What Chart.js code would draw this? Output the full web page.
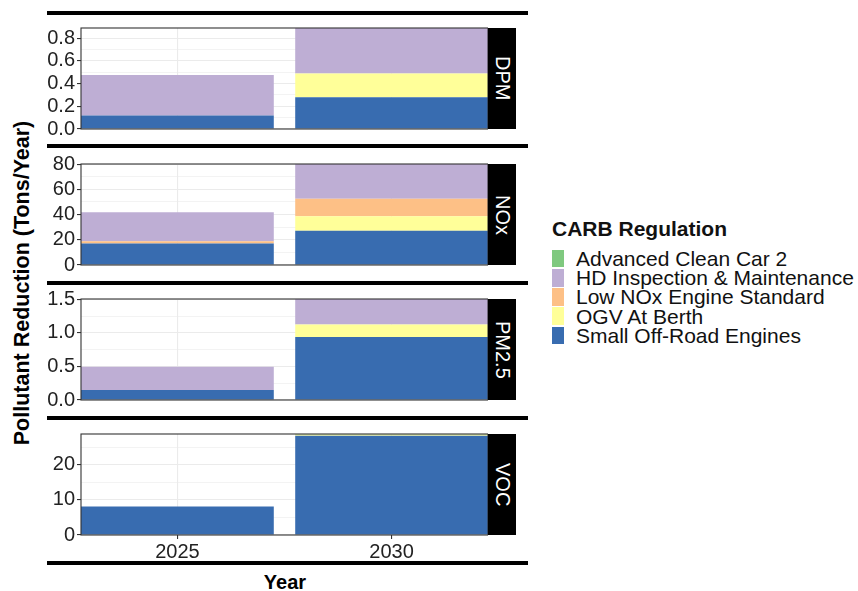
<!DOCTYPE html>
<html>
<head>
<meta charset="utf-8">
<script src="https://cdn.jsdelivr.net/npm/chart.js@4.4.0/dist/chart.umd.min.js"></script>
<style>
  body { margin: 0; background: #fff; font-family: "Liberation Sans", Arial, sans-serif; }
  #wrap { position: relative; width: 858px; height: 591px; overflow: hidden; }
  canvas { position: absolute; left: 40px; }
  .rule { position: absolute; left: 47px; width: 481px; height: 4px; background: #000; }
  .strip { position: absolute; left: 488px; width: 28px; background: #000; color: #fff; font-size: 20px;
           writing-mode: vertical-rl; display: flex; align-items: center; justify-content: center; }
  .ytitle { position: absolute; left: 22px; top: 283px; font-weight: bold; font-size: 21.5px; white-space: nowrap;
            transform: translate(-50%, -50%) rotate(-90deg); }
  .xtitle { position: absolute; left: 285px; top: 582px; font-weight: bold; font-size: 20px;
            transform: translate(-50%, -50%); }
  #legend { position: absolute; left: 552px; top: 219px; font-size: 21px; color: #111; }
  #legend .title { font-weight: bold; line-height: 20px; margin-bottom: 10px; }
  #legend .row { position: relative; height: 19.2px; line-height: 19.2px; padding-left: 24px; white-space: nowrap; }
  #legend .key { position: absolute; left: 0; top: 0.8px; width: 12px; height: 17.6px; }
</style>
</head>
<body>
<div id="wrap">
  <div class="ytitle">Pollutant Reduction (Tons/Year)</div>
  <div class="xtitle">Year</div>
  <div id="legend"><div class="title">CARB Regulation</div></div>
</div>
<script>
const years = ['2025', '2030'];
// stack order, bottom to top
const regulations = ['Small Off-Road Engines', 'OGV At Berth', 'Low NOx Engine Standard', 'HD Inspection & Maintenance', 'Advanced Clean Car 2'];
const regColors = ['#386CB0', '#FFFF99', '#FDC086', '#BEAED4', '#7FC97F'];
const pollutants = ['DPM', 'NOx', 'PM2.5', 'VOC'];

// one row per regulation (same order as above): [2025, 2030]
const dpmValues  = [[0.12, 0.28], [0, 0.21], [0, 0], [0.355, 0.40], [0, 0]];
const noxValues  = [[17.0, 27.2], [0, 11.4], [1.8, 13.9], [23.0, 27.6], [0, 0]];
const pm25Values = [[0.15, 0.94], [0, 0.185], [0, 0], [0.345, 0.38], [0, 0]];
const vocValues  = [[8.1, 28.2], [0, 0.35], [0, 0], [0, 0], [0, 0.15]];

const dpmTicks  = [0, 0.2, 0.4, 0.6, 0.8];
const noxTicks  = [0, 20, 40, 60, 80];
const pm25Ticks = [0, 0.5, 1.0, 1.5];
const vocTicks  = [0, 10, 20];
const tickDecimals = [1, 0, 1, 0];

const panelValues = [dpmValues, noxValues, pm25Values, vocValues];
const panelTicks = [dpmTicks, noxTicks, pm25Ticks, vocTicks];

const panelTops = [28, 164, 299, 434];
const panelH = 101;
const rules = [11, 144, 281, 416, 561];
const PAD = 14;
const FONT = '"Liberation Sans", Arial, sans-serif';

const wrap = document.getElementById('wrap');

rules.forEach(y => {
  const d = document.createElement('div');
  d.className = 'rule';
  d.style.top = y + 'px';
  wrap.appendChild(d);
});

const panelBorder = {
  id: 'panelBorder',
  afterDraw(chart) {
    const a = chart.chartArea, c = chart.ctx;
    c.save();
    c.strokeStyle = '#333';
    c.lineWidth = 1.1;
    c.strokeRect(a.left, a.top, a.right - a.left, a.bottom - a.top);
    c.restore();
  }
};

function makePanel(i) {
  const values = panelValues[i];
  const ticks = panelTicks[i];
  const dec = tickDecimals[i];
  const isBottom = i === pollutants.length - 1;
  const totals = years.map((y, j) => values.reduce((s, row) => s + row[j], 0));
  const yMax = Math.max(...totals);
  const step = ticks[1] - ticks[0];
  let gridVals = [];
  ticks.forEach(t => { gridVals.push(t); gridVals.push(t + step / 2); });
  gridVals = gridVals.filter(v => v <= yMax + 1e-9);
  const isMajor = v => ticks.some(t => Math.abs(t - v) < 1e-9);

  const canvas = document.createElement('canvas');
  canvas.width = 448;
  canvas.height = isBottom ? PAD + panelH + 32 : PAD * 2 + panelH;
  canvas.style.top = (panelTops[i] - PAD) + 'px';
  wrap.appendChild(canvas);

  const strip = document.createElement('div');
  strip.className = 'strip';
  strip.style.top = panelTops[i] + 'px';
  strip.style.height = panelH + 'px';
  strip.textContent = pollutants[i];
  wrap.appendChild(strip);

  new Chart(canvas.getContext('2d'), {
    type: 'bar',
    data: {
      datasets: regulations.map((r, k) => ({
        label: r,
        data: values[k].map((v, j) => ({ x: j + 1, y: v })),
        backgroundColor: regColors[k],
        borderWidth: 0,
        categoryPercentage: 0.9,
        barPercentage: 1
      }))
    },
    options: {
      responsive: false,
      animation: false,
      layout: { padding: { top: PAD, bottom: isBottom ? 0 : PAD, left: 0, right: 0 } },
      plugins: { legend: { display: false }, tooltip: { enabled: false } },
      scales: {
        x: {
          type: 'linear', min: 0.55, max: 2.45, stacked: true, offset: false,
          afterBuildTicks: s => { s.ticks = years.map((y, j) => ({ value: j + 1 })); },
          ticks: {
            display: isBottom, autoSkip: false, maxRotation: 0, padding: 1,
            callback: v => years[Math.round(v) - 1],
            font: { size: 20, family: FONT }, color: '#222'
          },
          grid: { offset: false, color: '#ebebeb', lineWidth: 1.1, drawTicks: isBottom, tickLength: 4, tickColor: '#333' },
          border: { display: false },
          afterFit: s => { s.height = isBottom ? 32 : 0; }
        },
        y: {
          stacked: true, min: 0, max: yMax,
          afterBuildTicks: s => { s.ticks = gridVals.map(v => ({ value: v })); },
          ticks: {
            autoSkip: false, padding: 2,
            callback: v => isMajor(v) ? v.toFixed(dec) : '',
            font: { size: 20, family: FONT }, color: '#222'
          },
          grid: {
            color: '#ebebeb',
            lineWidth: ctx => isMajor(ctx.tick.value) ? 1.1 : 0.6,
            tickLength: 4,
            tickColor: ctx => isMajor(ctx.tick.value) ? '#333' : 'rgba(0,0,0,0)'
          },
          border: { display: false },
          afterFit: s => { s.width = 41; }
        }
      }
    },
    plugins: [panelBorder]
  });
}

pollutants.forEach((p, i) => makePanel(i));

// legend, top to bottom is reverse of stacking
const legend = document.getElementById('legend');
regulations.slice().reverse().forEach((r, idx) => {
  const k = regulations.length - 1 - idx;
  const row = document.createElement('div');
  row.className = 'row';
  const key = document.createElement('span');
  key.className = 'key';
  key.style.background = regColors[k];
  row.appendChild(key);
  row.appendChild(document.createTextNode(r));
  legend.appendChild(row);
});
</script>
</body>
</html>
